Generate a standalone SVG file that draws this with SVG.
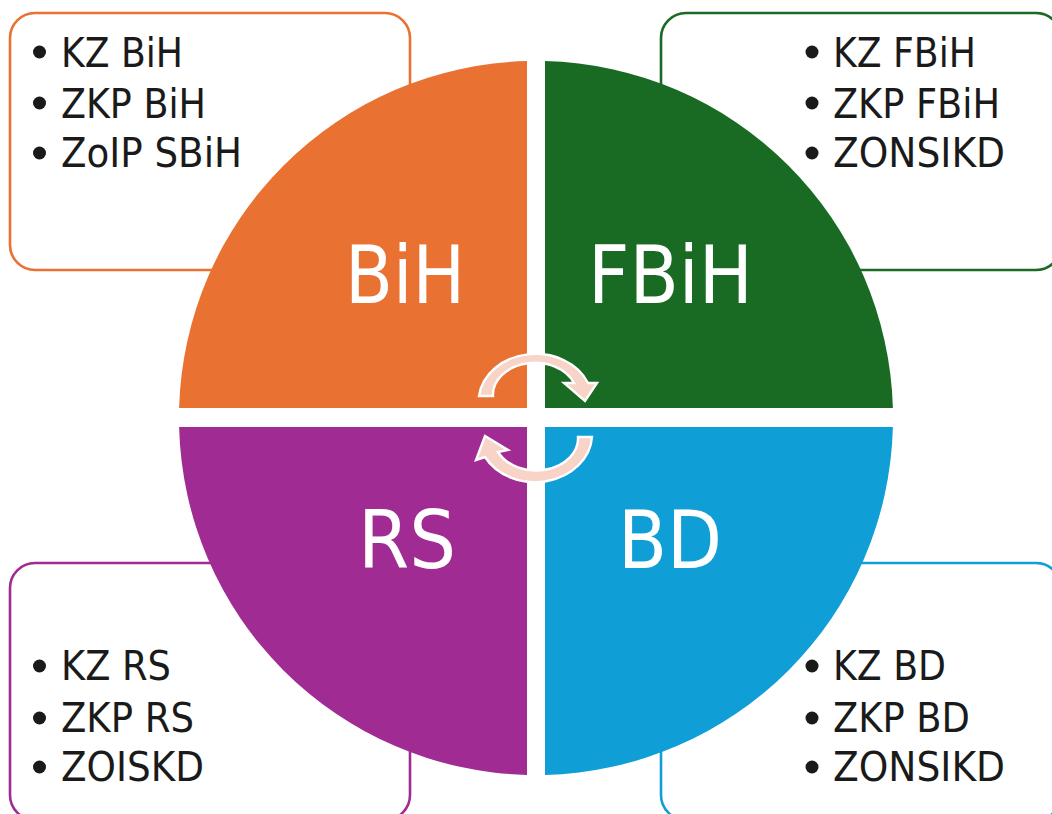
<svg xmlns="http://www.w3.org/2000/svg" width="1052" height="814" viewBox="0 0 1052 814">
<style>
.box{fill:#fff;stroke-width:2.6}
.item{font-family:"DejaVu Sans Condensed","DejaVu Sans",sans-serif;font-stretch:condensed;font-size:41px;fill:#1a1a1a}
.big{font-family:"DejaVu Sans Condensed","DejaVu Sans",sans-serif;font-stretch:condensed;font-size:80px;fill:#fff}
.dot{fill:#1a1a1a}
.arrow{fill:#F7D3C8;stroke:#fff;stroke-width:2.4;stroke-linejoin:miter}
</style>
<rect width="1052" height="814" fill="#fff"/>
<g id="box-bih">
<rect class="box" x="10" y="13" width="400" height="257" rx="25" stroke="#E97132"/>
<circle class="dot" cx="39.5" cy="52" r="6.5"/><text class="item" x="61" y="67" textLength="122" lengthAdjust="spacingAndGlyphs">KZ BiH</text>
<circle class="dot" cx="39.5" cy="103" r="6.5"/><text class="item" x="61" y="118" textLength="145" lengthAdjust="spacingAndGlyphs">ZKP BiH</text>
<circle class="dot" cx="39.5" cy="153" r="6.5"/><text class="item" x="61" y="167" textLength="181" lengthAdjust="spacingAndGlyphs">ZoIP SBiH</text>
</g>
<g id="box-fbih">
<rect class="box" x="661" y="13" width="400" height="257" rx="25" stroke="#196B24"/>
<circle class="dot" cx="812" cy="52" r="6.5"/><text class="item" x="833" y="67" textLength="143" lengthAdjust="spacingAndGlyphs">KZ FBiH</text>
<circle class="dot" cx="812" cy="103" r="6.5"/><text class="item" x="833" y="118" textLength="167" lengthAdjust="spacingAndGlyphs">ZKP FBiH</text>
<circle class="dot" cx="812" cy="153" r="6.5"/><text class="item" x="833" y="167" textLength="172" lengthAdjust="spacingAndGlyphs">ZONSIKD</text>
</g>
<g id="box-rs">
<rect class="box" x="10" y="563" width="400" height="257" rx="25" stroke="#A02B93"/>
<circle class="dot" cx="39.5" cy="666" r="6.5"/><text class="item" x="61" y="680" textLength="110" lengthAdjust="spacingAndGlyphs">KZ RS</text>
<circle class="dot" cx="39.5" cy="718" r="6.5"/><text class="item" x="61" y="732" textLength="133" lengthAdjust="spacingAndGlyphs">ZKP RS</text>
<circle class="dot" cx="39.5" cy="767" r="6.5"/><text class="item" x="61" y="781" textLength="143" lengthAdjust="spacingAndGlyphs">ZOISKD</text>
</g>
<g id="box-bd">
<rect class="box" x="661" y="563" width="400" height="257" rx="25" stroke="#0F9ED5"/>
<circle class="dot" cx="812" cy="666" r="6.5"/><text class="item" x="833" y="680" textLength="113" lengthAdjust="spacingAndGlyphs">KZ BD</text>
<circle class="dot" cx="812" cy="718" r="6.5"/><text class="item" x="833" y="732" textLength="137" lengthAdjust="spacingAndGlyphs">ZKP BD</text>
<circle class="dot" cx="812" cy="767" r="6.5"/><text class="item" x="833" y="781" textLength="172" lengthAdjust="spacingAndGlyphs">ZONSIKD</text>
</g>
<g id="q-bih">
<path d="M527,408 L179.1,408 A357 357 0 0 1 527,61.1 Z" fill="#E97132"/>
<text class="big" x="345" y="303" textLength="120" lengthAdjust="spacingAndGlyphs">BiH</text>
</g>
<g id="q-fbih">
<path d="M545,408 L545,61.1 A357 357 0 0 1 892.9,408 Z" fill="#196B24"/>
<text class="big" x="588" y="303" textLength="165" lengthAdjust="spacingAndGlyphs">FBiH</text>
</g>
<g id="q-rs">
<path d="M527,427 L527,774.9 A357 357 0 0 1 179.1,427 Z" fill="#A02B93"/>
<text class="big" x="358" y="568" textLength="98" lengthAdjust="spacingAndGlyphs">RS</text>
</g>
<g id="q-bd">
<path d="M545,427 L892.9,427 A357 357 0 0 1 545,774.9 Z" fill="#0F9ED5"/>
<text class="big" x="618" y="568" textLength="104" lengthAdjust="spacingAndGlyphs">BD</text>
</g>
<g id="connectors">
<path class="arrow" d="M479,396 A57 48 0 0 1 588,383 L597,383 L585,401 L564,383 L574,383 A42 32 0 0 0 493,396 Z"/>
<path class="arrow" d="M592,437 A57 48 0 0 1 485,457 L476,460 L485,436 L508,450 L498,452 A42 32 0 0 0 578,437 Z"/>
</g>
</svg>
